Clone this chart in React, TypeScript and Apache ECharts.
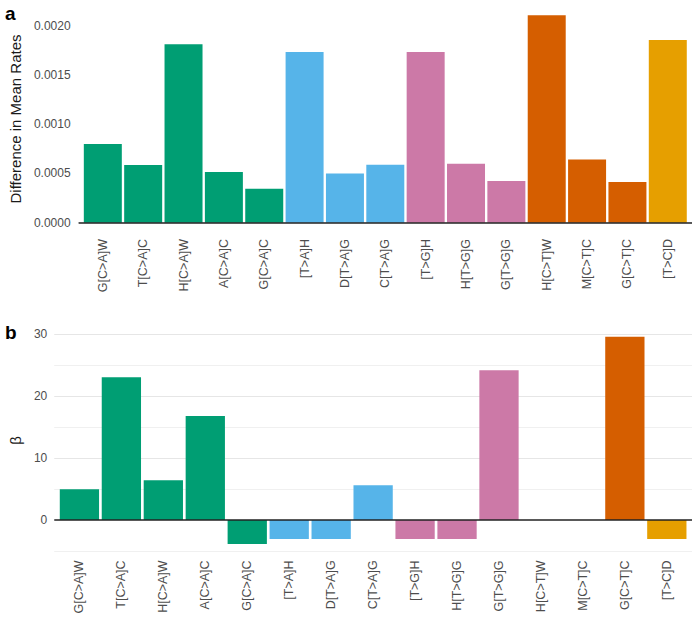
import React, { useEffect, useRef } from "react";
import * as echarts from "echarts";

// ---- data ----
const categories = [
  "G[C>A]W", "T[C>A]C", "H[C>A]W", "A[C>A]C", "G[C>A]C",
  "[T>A]H", "D[T>A]G", "C[T>A]G",
  "[T>G]H", "H[T>G]G", "G[T>G]G",
  "H[C>T]W", "M[C>T]C", "G[C>T]C",
  "[T>C]D",
];
const rateDifference = [
  0.0008, 0.000586, 0.001814, 0.000515, 0.000345,
  0.001736, 0.0005, 0.000589,
  0.001736, 0.000599, 0.000423,
  0.002109, 0.000643, 0.000413,
  0.001858,
];
const betaValues = [
  4.96, 23.05, 6.41, 16.8, -3.88,
  -3.07, -3.07, 5.6,
  -3.07, -3.07, 24.2,
  0, 0, 29.6,
  -3.07,
];
const rateTicks = [0, 0.0005, 0.001, 0.0015, 0.002];
const rateMinorLines = [0.00025, 0.00075, 0.00125, 0.00175];
const betaTicks = [0, 10, 20, 30];
const betaMinorLines = [-5, 5, 15, 25];
const typeColors: Record<string, string> = {
  "C>A": "#009E73",
  "T>A": "#56B4E9",
  "T>G": "#CC79A7",
  "C>T": "#D55E00",
  "T>C": "#E69F00",
};

const FONT = "'Liberation Sans', Arial, Helvetica, sans-serif";
const LABEL_COLOR = "#4D4D4D";

function expandRange(values: number[], frac = 0.05): [number, number] {
  const lo = Math.min(0, ...values);
  const hi = Math.max(0, ...values);
  const pad = (hi - lo) * frac;
  return [lo - pad, hi + pad];
}

function typeOf(cat: string): string {
  const m = cat.match(/\[(.+?)\]/);
  return m ? m[1] : "";
}

const positions = categories.map((_, i) => i + 1);

export default function App() {
  const ref = useRef<HTMLDivElement>(null);

  useEffect(() => {
    if (!ref.current) return;
    const chart = echarts.init(ref.current, undefined, { renderer: "svg" });

    const grids = [
      { left: 71, top: 5, width: 621, height: 228 },
      { left: 50, top: 326.4, width: 642, height: 228 },
    ];
    const xMin = 0.4;
    const xMax = categories.length + 0.6;
    const span = xMax - xMin;

    const panels = [
      { values: rateDifference, ticks: rateTicks, minor: rateMinorLines, fmt: (v: number) => v.toFixed(4), name: "Difference in Mean Rates", nameGap: 49, labelMargin: 8, nameSize: 15 },
      { values: betaValues, ticks: betaTicks, minor: betaMinorLines, fmt: (v: number) => String(v), name: "β", nameGap: 27, labelMargin: 7, nameSize: 15 },
    ];

    const xAxis = panels.map((_, i) => ({
      type: "value",
      gridIndex: i,
      min: xMin,
      max: xMax,
      axisLine: { show: false },
      axisTick: { show: false },
      splitLine: { show: false },
      axisLabel: {
        customValues: positions,
        formatter: (v: number) => categories[Math.round(v) - 1] ?? "",
        rotate: 90,
        margin: 6,
        fontSize: 12.5,
        color: LABEL_COLOR,
        fontFamily: FONT,
      },
    }));

    const yAxis = panels.map((p, i) => {
      const [lo, hi] = expandRange(p.values);
      return {
        type: "value",
        gridIndex: i,
        min: lo,
        max: hi,
        axisLine: { show: false },
        axisTick: { show: false },
        splitLine: { show: false },
        axisLabel: {
          customValues: p.ticks,
          formatter: p.fmt,
          margin: p.labelMargin,
          fontSize: 12,
          color: LABEL_COLOR,
          fontFamily: FONT,
        },
        name: p.name,
        nameLocation: "middle",
        nameRotate: 90,
        nameGap: p.nameGap,
        nameTextStyle: { fontSize: p.nameSize, color: "#1A1A1A", fontFamily: FONT },
      };
    });

    const series: any[] = [];
    panels.forEach((p, i) => {
      const barWidth = (grids[i].width / span) * 0.93;
      series.push({
        type: "line",
        xAxisIndex: i,
        yAxisIndex: i,
        data: [],
        z: 1,
        silent: true,
        markLine: {
          silent: true,
          symbol: "none",
          z: 1,
          label: { show: false },
          lineStyle: { type: "solid", width: 1, color: "#EBEBEB" },
          data: [
            ...p.ticks.filter((t) => t !== 0).map((t) => ({ yAxis: t, lineStyle: { color: "#E6E6E6", width: 1, type: "solid" } })),
            ...p.minor.map((t) => ({ yAxis: t, lineStyle: { color: "#F0F0F0", width: 1, type: "solid" } })),
          ],
        },
      });
      series.push({
        type: "bar",
        xAxisIndex: i,
        yAxisIndex: i,
        barWidth,
        z: 2,
        data: categories.map((c, k) => ({
          value: [positions[k], p.values[k]],
          itemStyle: { color: typeColors[typeOf(c)] },
        })),
        markLine: {
          silent: true,
          symbol: "none",
          z: 5,
          label: { show: false },
          lineStyle: { type: "solid", width: 1.5, color: "#222222" },
          data: [{ yAxis: 0 }],
        },
      });
    });

    chart.setOption({
      animation: false,
      backgroundColor: "#FFFFFF",
      grid: grids,
      xAxis,
      yAxis,
      series,
      graphic: [
        { type: "text", left: 5, top: 4, style: { text: "a", font: `bold 19px ${FONT}`, fill: "#000" } },
        { type: "text", left: 5, top: 323, style: { text: "b", font: `bold 19px ${FONT}`, fill: "#000" } },
      ],
    });

    return () => chart.dispose();
  }, []);

  return (
    <div
      ref={ref}
      style={{ position: "absolute", left: 0, top: 0, width: 700, height: 625 }}
    />
  );
}
